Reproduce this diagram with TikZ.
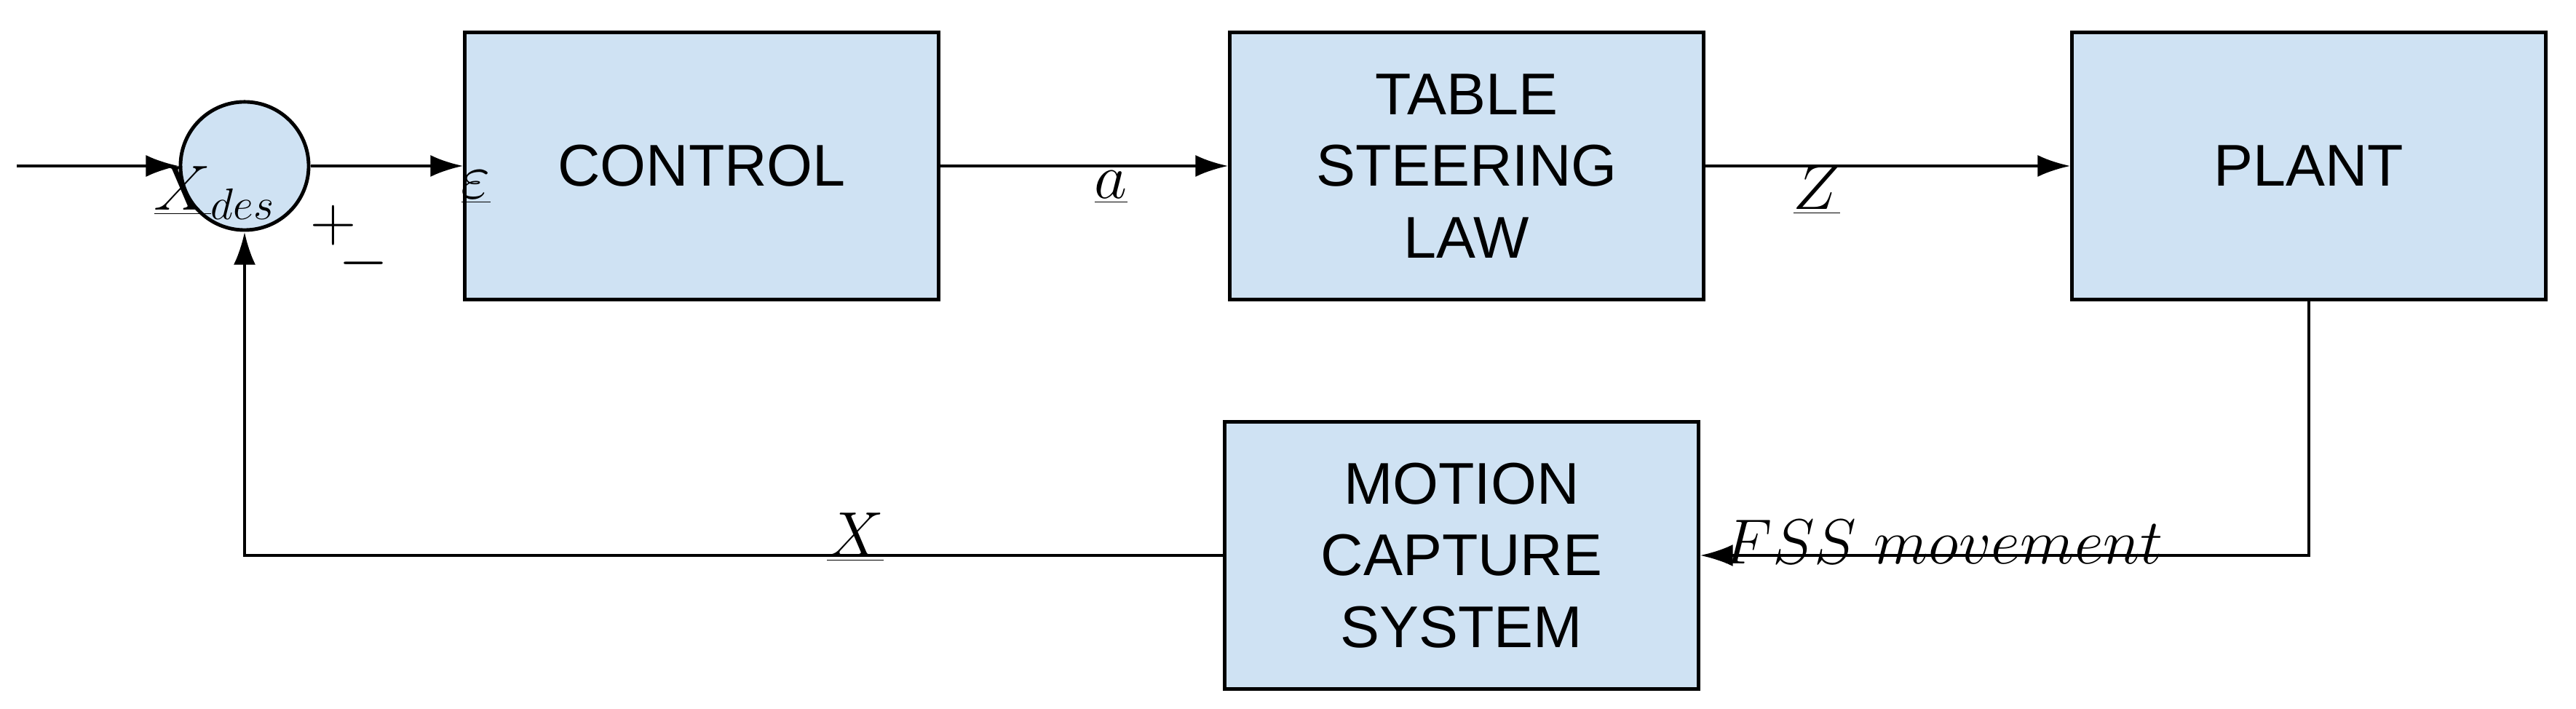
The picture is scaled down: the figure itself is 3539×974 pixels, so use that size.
\documentclass[tikz,border=0pt]{standalone}
\usepackage{fontspec}
\setmainfont{Liberation Sans}
\usetikzlibrary{arrows.meta}
\definecolor{bfill}{RGB}{207,226,243}
\begin{document}
\begin{tikzpicture}[x=0.01cm,y=-0.01cm,
  blk/.style={draw,line width=1.4pt,fill=bfill,minimum width=6.5cm,minimum height=3.66cm,inner sep=0,align=center,font=\fontsize{23}{28}\selectfont},
  arr/.style={line width=1.3pt,-{Latex[length=4.5mm,width=3mm]}},
  lbl/.style={font=\fontsize{25}{30}\selectfont}]
\useasboundingbox (0,0) rectangle (3539,974);
\node[blk] (ctrl) at (964,228) {CONTROL};
\node[blk] (tsl) at (2015,228) {TABLE\\STEERING\\LAW};
\node[blk] (plant) at (3172,228) {PLANT};
\node[blk] (mcs) at (2008,763) {MOTION\\CAPTURE\\SYSTEM};
\node[draw,circle,line width=1.4pt,fill=bfill,minimum size=1.76cm,inner sep=0] (sum) at (336,228) {};
\coordinate (in) at (23,228);
\coordinate (pc) at (3172,763);
\coordinate (fc) at (336,763);
\draw[arr] (in) -- (sum.west);
\draw[arr] (sum.east) -- (ctrl.west);
\draw[arr] (ctrl.east) -- (tsl.west);
\draw[arr] (tsl.east) -- (plant.west);
\draw[arr] (plant.south) -- (pc) -- (mcs.east);
\draw[arr] (mcs.west) -- (fc) -- (sum.south);
\node[lbl] (xdes) at (295,265) {$\underline{X}_{des}$};
\node[lbl] (plus) at (458,310) {$+$};
\node[lbl] (minus) at (500,362) {$-$};
\node[lbl] (eps) at (654,257) {$\underline{\varepsilon}$};
\node[lbl] (a) at (1526,257) {$\underline{a}$};
\node[lbl] (z) at (2496,261) {$\underline{Z}$};
\node[lbl] (x) at (1175,738) {$\underline{X}$};
\node[lbl] (fss) at (2670,745) {$FSS\ movement$};
\end{tikzpicture}
\end{document}
